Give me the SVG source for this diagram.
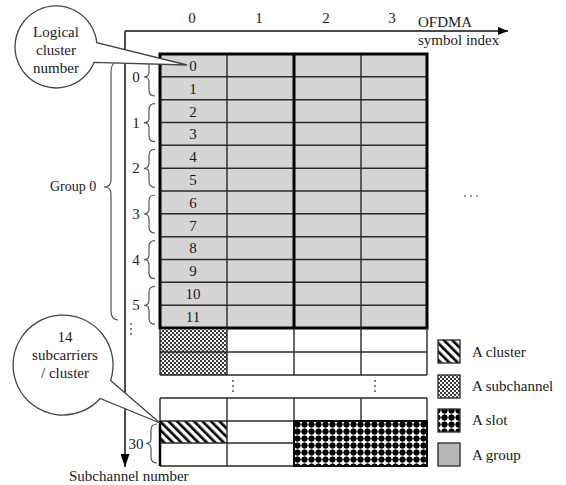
<svg xmlns="http://www.w3.org/2000/svg" width="566" height="485" viewBox="0 0 566 485">
<style>
text{font-family:"Liberation Serif","Times New Roman",serif;fill:#1a1a1a;font-size:15px}
.c{text-anchor:middle}
.thin{fill:none;stroke:#2a2a2a;stroke-width:1.4}
.thick{fill:none;stroke:#000;stroke-width:3}
.brace{fill:none;stroke:#555;stroke-width:1.2}
.axis{fill:none;stroke:#111;stroke-width:1.5}
.callout{fill:#fff;stroke:#444;stroke-width:1.3}
.dot{fill:#444}
</style>
<defs>
<pattern id="hatch" width="6" height="6" patternUnits="userSpaceOnUse" patternTransform="rotate(-45)">
<rect width="6" height="6" fill="#fff"/>
<rect x="0" y="0" width="2.6" height="6" fill="#000"/>
</pattern>
<pattern id="sub" width="4" height="4" patternUnits="userSpaceOnUse">
<rect width="4" height="4" fill="#fff"/>
<circle cx="1" cy="1" r="1.15" fill="#333"/>
<circle cx="3" cy="3" r="1.15" fill="#333"/>
</pattern>
<pattern id="slot" width="7" height="7" patternUnits="userSpaceOnUse" x="294" y="421">
<rect width="7" height="7" fill="#fff"/>
<circle cx="3.5" cy="3.5" r="3.1" fill="#000"/>
<path d="M3.5,0 L4.6,3.5 L3.5,7 L2.4,3.5 Z M0,3.5 L3.5,2.4 L7,3.5 L3.5,4.6 Z" fill="#000"/>
</pattern>
<marker id="arrow" viewBox="0 0 10 8" refX="10" refY="4" markerWidth="10" markerHeight="8" markerUnits="userSpaceOnUse" orient="auto">
<path d="M0,0 L10,4 L0,8 Z" fill="#000"/>
</marker>
<marker id="arrowv" viewBox="0 0 13 9" refX="13" refY="4.5" markerWidth="13" markerHeight="9" markerUnits="userSpaceOnUse" orient="auto">
<path d="M0,0 L13,4.5 L0,9 Z" fill="#000"/>
</marker>
</defs>
<rect width="566" height="485" fill="#fff"/>

<g id="connectors">
<line class="axis" x1="125" y1="31" x2="508" y2="31" marker-end="url(#arrow)"/>
<line class="axis" x1="125" y1="31" x2="125" y2="467" marker-end="url(#arrowv)"/>
</g>

<g id="axis-labels">
<text class="c" x="192" y="23">0</text>
<text class="c" x="259" y="23">1</text>
<text class="c" x="326" y="23">2</text>
<text class="c" x="392" y="23">3</text>
<text x="418" y="27">OFDMA</text>
<text x="418" y="45">symbol index</text>
<text x="69" y="481">Subchannel number</text>
</g>

<g id="group-grid">
<rect x="160" y="54" width="267" height="274" fill="#d4d4d4"/>
<g class="thin">
<line x1="160" y1="76.8" x2="427" y2="76.8"/>
<line x1="160" y1="99.7" x2="427" y2="99.7"/>
<line x1="160" y1="122.5" x2="427" y2="122.5"/>
<line x1="160" y1="145.3" x2="427" y2="145.3"/>
<line x1="160" y1="168.2" x2="427" y2="168.2"/>
<line x1="160" y1="191" x2="427" y2="191"/>
<line x1="160" y1="213.8" x2="427" y2="213.8"/>
<line x1="160" y1="236.7" x2="427" y2="236.7"/>
<line x1="160" y1="259.5" x2="427" y2="259.5"/>
<line x1="160" y1="282.3" x2="427" y2="282.3"/>
<line x1="160" y1="305.2" x2="427" y2="305.2"/>
<line x1="227" y1="54" x2="227" y2="328"/>
<line x1="361" y1="54" x2="361" y2="328"/>
</g>
<line class="thick" x1="294" y1="54" x2="294" y2="328"/>
<rect class="thick" x="160" y="54" width="267" height="274"/>
<g class="row-labels">
<text class="c" x="193" y="71">0</text>
<text class="c" x="193" y="93.5">1</text>
<text class="c" x="193" y="116.5">2</text>
<text class="c" x="193" y="139">3</text>
<text class="c" x="193" y="162">4</text>
<text class="c" x="193" y="185">5</text>
<text class="c" x="193" y="207.5">6</text>
<text class="c" x="193" y="230.5">7</text>
<text class="c" x="193" y="253">8</text>
<text class="c" x="193" y="276">9</text>
<text class="c" x="193" y="299">10</text>
<text class="c" x="193" y="321.5">11</text>
</g>
</g>

<g id="subchannel-rows">
<rect x="160" y="329.5" width="67" height="45.5" fill="url(#sub)"/>
<g class="thin">
<path d="M227,328 V375 M294,328 V375 M361,328 V375 M427,328 V375 M160,352 H427 M160,375 H427 M160,328 V375"/>
</g>
</g>

<g id="ellipsis">
<circle class="dot" cx="131" cy="324" r="0.9"/>
<circle class="dot" cx="131" cy="329" r="0.9"/>
<circle class="dot" cx="131" cy="334" r="0.9"/>
<circle class="dot" cx="233" cy="381" r="0.9"/>
<circle class="dot" cx="233" cy="386" r="0.9"/>
<circle class="dot" cx="233" cy="391" r="0.9"/>
<circle class="dot" cx="375" cy="381" r="0.9"/>
<circle class="dot" cx="375" cy="386" r="0.9"/>
<circle class="dot" cx="375" cy="391" r="0.9"/>
<circle cx="465" cy="196" r="1.1" fill="#888"/>
<circle cx="471" cy="196" r="1.1" fill="#888"/>
<circle cx="477" cy="196" r="1.1" fill="#888"/>
</g>

<g id="bottom-grid">
<rect x="160" y="421" width="67" height="22" fill="url(#hatch)"/>
<rect x="294" y="421" width="133" height="45" fill="url(#slot)"/>
<g class="thin">
<path d="M160,398 H427 M160,421 H427 M160,443 H294 M160,466 H427 M160,398 V466 M227,398 V466 M294,398 V466 M361,398 V421 M427,398 V466"/>
</g>
<line x1="160" y1="421" x2="160" y2="466" stroke="#000" stroke-width="2.5"/>
<rect x="294" y="421" width="133" height="45" fill="none" stroke="#000" stroke-width="1.8"/>
</g>

<g id="braces">
<path class="brace" d="M155,58 Q149,58 149,64 L149,72 Q149,77 144,77 Q149,77 149,82 L149,90 Q149,96 155,96"/>
<text class="c" x="136" y="82">0</text>
<path class="brace" d="M155,103.7 Q149,103.7 149,109.7 L149,117.7 Q149,122.7 144,122.7 Q149,122.7 149,127.7 L149,135.7 Q149,141.7 155,141.7"/>
<text class="c" x="136" y="127.7">1</text>
<path class="brace" d="M155,149.3 Q149,149.3 149,155.3 L149,163.3 Q149,168.3 144,168.3 Q149,168.3 149,173.3 L149,181.3 Q149,187.3 155,187.3"/>
<text class="c" x="136" y="173.3">2</text>
<path class="brace" d="M155,195 Q149,195 149,201 L149,209 Q149,214 144,214 Q149,214 149,219 L149,227 Q149,233 155,233"/>
<text class="c" x="136" y="219">3</text>
<path class="brace" d="M155,240.7 Q149,240.7 149,246.7 L149,254.7 Q149,259.7 144,259.7 Q149,259.7 149,264.7 L149,272.7 Q149,278.7 155,278.7"/>
<text class="c" x="136" y="264.7">4</text>
<path class="brace" d="M155,286.3 Q149,286.3 149,292.3 L149,300.3 Q149,305.3 144,305.3 Q149,305.3 149,310.3 L149,318.3 Q149,324.3 155,324.3"/>
<text class="c" x="136" y="310.3">5</text>
<path class="brace" d="M157,424 Q151,424 151,430 L151,438 Q151,443.5 146,443.5 Q151,443.5 151,449 L151,457 Q151,463 157,463"/>
<text class="c" x="136" y="449">30</text>
<path class="brace" d="M118,62 Q111,62 111,72 L111,180 Q111,187 104,187 Q111,187 111,194 L111,310 Q111,320 118,320"/>
<text x="50" y="191" style="font-size:14px">Group 0</text>
</g>

<g id="callout-logical">
<path class="callout" d="M96.8,42.7 A41,41 0 1 0 94,62.4 L187,65 Z"/>
<text class="c" x="56" y="37">Logical</text>
<text class="c" x="56" y="55">cluster</text>
<text class="c" x="56" y="73">number</text>
</g>

<g id="callout-subcarriers">
<path class="callout" d="M110.6,380.5 A50,50 0 1 0 100.2,398.5 L160,423 Z"/>
<text class="c" x="65" y="342">14</text>
<text class="c" x="65" y="360">subcarriers</text>
<text class="c" x="65" y="378">/ cluster</text>
</g>

<g id="legend">
<rect x="438" y="340" width="22" height="23" fill="url(#hatch)" stroke="#333" stroke-width="1.4"/>
<text x="472" y="357">A cluster</text>
<rect x="438" y="375" width="22" height="23" fill="url(#sub)" stroke="#333" stroke-width="1.4"/>
<text x="472" y="391">A subchannel</text>
<rect x="438" y="409" width="22" height="23" fill="url(#slot)" stroke="#333" stroke-width="1.4"/>
<text x="472" y="425">A slot</text>
<rect x="438" y="443" width="22" height="23" fill="#b8b8b8" stroke="#333" stroke-width="1.4"/>
<text x="472" y="460">A group</text>
</g>
</svg>
